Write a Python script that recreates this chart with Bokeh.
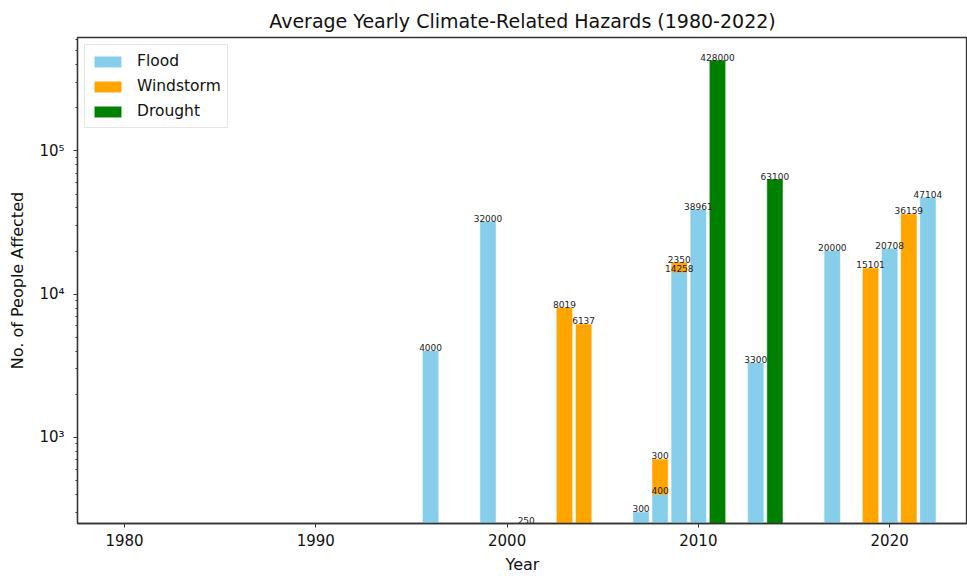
from bokeh.plotting import figure
from bokeh.models import Range1d, FixedTicker, CustomJSTickFormatter, ColumnDataSource
from bokeh.core.properties import value
from bokeh.embed import file_html
from bokeh.resources import INLINE

# ---- data ----
flood_years = [1996, 1999, 2001, 2007, 2008, 2009, 2010, 2013, 2017, 2020, 2022]
flood_vals = [4000, 32000, 250, 300, 400, 14258, 38961, 3300, 20000, 20708, 47104]
windstorm_years = [2003, 2004, 2008, 2009, 2019, 2021]
windstorm_vals = [8019, 6137, 300, 2350, 15101, 36159]
drought_years = [2011, 2014]
drought_vals = [428000, 63100]

x_ticks = [1980, 1990, 2000, 2010, 2020]
y_major = [1e3, 1e4, 1e5]
y_minor = [300, 400, 500, 600, 700, 800, 900,
           2000, 3000, 4000, 5000, 6000, 7000, 8000, 9000,
           20000, 30000, 40000, 50000, 60000, 70000, 80000, 90000,
           200000, 300000, 400000, 500000, 600000]

FLOOR = 1  # bottom for unstacked bars on a log axis
flood_map = dict(zip(flood_years, flood_vals))
wind_bottom = [flood_map.get(y, FLOOR) for y in windstorm_years]
wind_top = [b + v if b != FLOOR else v for b, v in zip(wind_bottom, windstorm_vals)]

flood_src = ColumnDataSource(dict(x=flood_years, top=flood_vals, bottom=[FLOOR] * len(flood_vals),
                                  label=[str(v) for v in flood_vals]))
wind_src = ColumnDataSource(dict(x=windstorm_years, top=wind_top, bottom=wind_bottom,
                                 label=[str(v) for v in windstorm_vals]))
drought_src = ColumnDataSource(dict(x=drought_years, top=drought_vals, bottom=[FLOOR] * len(drought_vals),
                                    label=[str(v) for v in drought_vals]))

FONT = "DejaVu Sans"

p = figure(width=967, height=576, y_axis_type="log",
           x_range=Range1d(1977.54, 2024.07), y_range=Range1d(250, 620000),
           output_backend="svg", toolbar_location=None,
           min_border_left=77, min_border_right=0, min_border_top=37, min_border_bottom=52)

p.title.text = "Average Yearly Climate-Related Hazards (1980-2022)"
p.title.align = "center"
p.title.text_font = FONT
p.title.text_font_size = "19px"
p.title.text_font_style = "normal"
p.title.text_color = "#111111"
p.title.text_line_height = 0.8
p.title.standoff = 12

p.xgrid.visible = False
p.ygrid.visible = False
p.outline_line_color = "#333333"
p.outline_line_width = 1.3
p.background_fill_color = "white"
p.border_fill_color = "white"

colors = {"Flood": "skyblue", "Windstorm": "orange", "Drought": "green"}
for name, src in [("Flood", flood_src), ("Windstorm", wind_src), ("Drought", drought_src)]:
    p.vbar(x="x", top="top", bottom="bottom", width=0.8, source=src,
           fill_color=colors[name], line_color=colors[name], line_width=0.5, legend_label=name)

for src in [flood_src, wind_src, drought_src]:
    p.text(x="x", y="top", text="label", source=src, text_align="center", text_baseline="bottom",
           text_font=value(FONT), text_font_size="9px", text_color="#222222")

for ax in (p.xaxis, p.yaxis):
    ax.axis_line_color = "#333333"
    ax.axis_line_width = 1.3
    ax.major_tick_line_color = "#333333"
    ax.minor_tick_line_color = "#333333"
    ax.major_tick_in = 0
    ax.major_tick_out = 4
    ax.minor_tick_in = 0
    ax.minor_tick_out = 2
    ax.major_label_text_font = FONT
    ax.major_label_text_font_size = "15px"
    ax.major_label_text_color = "#111111"
    ax.axis_label_text_font = FONT
    ax.axis_label_text_font_size = "16px"
    ax.axis_label_text_font_style = "normal"
    ax.axis_label_text_color = "#111111"

p.xaxis.ticker = FixedTicker(ticks=x_ticks, minor_ticks=[])
p.xaxis.axis_label = "Year"
p.xaxis.major_label_standoff = 6
p.xaxis.axis_label_standoff = 6

p.yaxis.ticker = FixedTicker(ticks=y_major, minor_ticks=y_minor)
p.yaxis.formatter = CustomJSTickFormatter(code="""
const sup = {'0':'\u2070','1':'\u00b9','2':'\u00b2','3':'\u00b3','4':'\u2074','5':'\u2075','6':'\u2076','7':'\u2077','8':'\u2078','9':'\u2079'};
const e = Math.round(Math.log10(tick));
return '10' + String(e).split('').map(c => sup[c]).join('');
""")
p.yaxis.axis_label = "No. of People Affected"
p.yaxis.major_label_standoff = 9
p.yaxis.axis_label_standoff = 9

p.legend.location = "top_left"
p.legend.margin = 7
p.legend.padding = 6
p.legend.spacing = 5
p.legend.glyph_width = 33
p.legend.glyph_height = 13
p.legend.label_height = 20
p.legend.label_text_font = FONT
p.legend.label_text_font_size = "15.5px"
p.legend.label_text_color = "#111111"
p.legend.label_standoff = 13
p.legend.border_line_color = "#cccccc"
p.legend.border_line_width = 1
p.legend.background_fill_alpha = 0.9

open("out.html", "w").write(file_html(p, INLINE))
